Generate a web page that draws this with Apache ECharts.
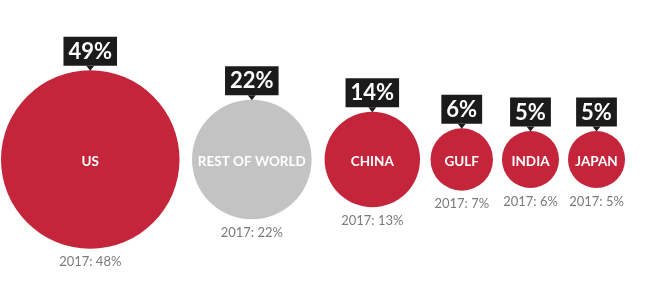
<!DOCTYPE html>
<html>
<head>
<meta charset="utf-8">
<script src="https://cdn.jsdelivr.net/npm/echarts@6/dist/echarts.min.js"></script>
<style>
html,body{margin:0;padding:0;background:#fff;}
#chart{width:650px;height:291px;}
</style>
</head>
<body>
<div id="chart"></div>
<script>
// ---- data ----
const categories = ['US', 'REST OF WORLD', 'CHINA', 'GULF', 'INDIA', 'JAPAN'];
const share2018 = [49, 22, 14, 6, 5, 5];
const share2017 = [48, 22, 13, 7, 6, 5];
const isRest = [false, true, false, false, false, false];

// ---- styling / layout constants ----
const RED = '#c4253b';
const GREY = '#c3c3c3';
const K = 12.75;              // radius per sqrt(percent)
const START = 1;              // left edge of the first circle
const GAPS = [12.5, 13, 10.5, 9, 9];

const radii = share2018.map(v => K * Math.sqrt(v));
const centers = [];
let edge = START;
radii.forEach((r, i) => {
  centers.push(edge + r);
  edge += 2 * r + (GAPS[i] || 0);
});

const chart = echarts.init(document.getElementById('chart'), null, {renderer: 'canvas'});

const circleData = categories.map((c, i) => ({
  name: c,
  value: [centers[i], 0],
  symbolSize: 2 * radii[i],
  itemStyle: {color: isRest[i] ? GREY : RED, opacity: 1}
}));

const pointerData = categories.map((c, i) => ({
  name: share2018[i] + '%',
  value: [centers[i], 0],
  symbolOffset: [0, -(radii[i] + 2)]
}));

const bottomData = categories.map((c, i) => ({
  name: '2017: ' + share2017[i] + '%',
  value: [centers[i], 0],
  symbolSize: 2 * radii[i]
}));

chart.setOption({
  animation: false,
  backgroundColor: '#ffffff',
  grid: {left: 0, right: 0, top: 0, bottom: 0},
  xAxis: {type: 'value', min: 0, max: 650, show: false},
  yAxis: {type: 'value', min: -131.5, max: 159.5, show: false},
  series: [
    {
      type: 'scatter',
      data: circleData,
      symbol: 'circle',
      silent: true,
      label: {
        show: true,
        position: 'inside',
        offset: [0, 2],
        formatter: p => p.name,
        color: '#ffffff',
        fontFamily: 'Lato',
        fontWeight: 'bold',
        fontSize: 13.5
      },
      z: 2
    },
    {
      type: 'scatter',
      data: pointerData,
      symbol: 'path://M0,0L10,0L5,6Z',
      symbolSize: [8, 5],
      itemStyle: {color: '#1b1b1b', opacity: 1},
      silent: true,
      label: {
        show: true,
        position: 'top',
        distance: 0,
        formatter: p => p.name,
        color: '#ffffff',
        backgroundColor: '#1b1b1b',
        fontFamily: 'Lato',
        fontWeight: 'bold',
        fontSize: 22,
        lineHeight: 24,
        padding: [3, 5, 2, 5]
      },
      z: 3
    },
    {
      type: 'scatter',
      data: bottomData,
      symbol: 'circle',
      itemStyle: {color: 'rgba(0,0,0,0)', opacity: 1},
      silent: true,
      label: {
        show: true,
        position: 'bottom',
        distance: 7,
        formatter: p => p.name,
        color: '#7a7a7a',
        fontFamily: 'Lato',
        fontSize: 13
      },
      z: 1
    }
  ]
});
</script>
</body>
</html>
